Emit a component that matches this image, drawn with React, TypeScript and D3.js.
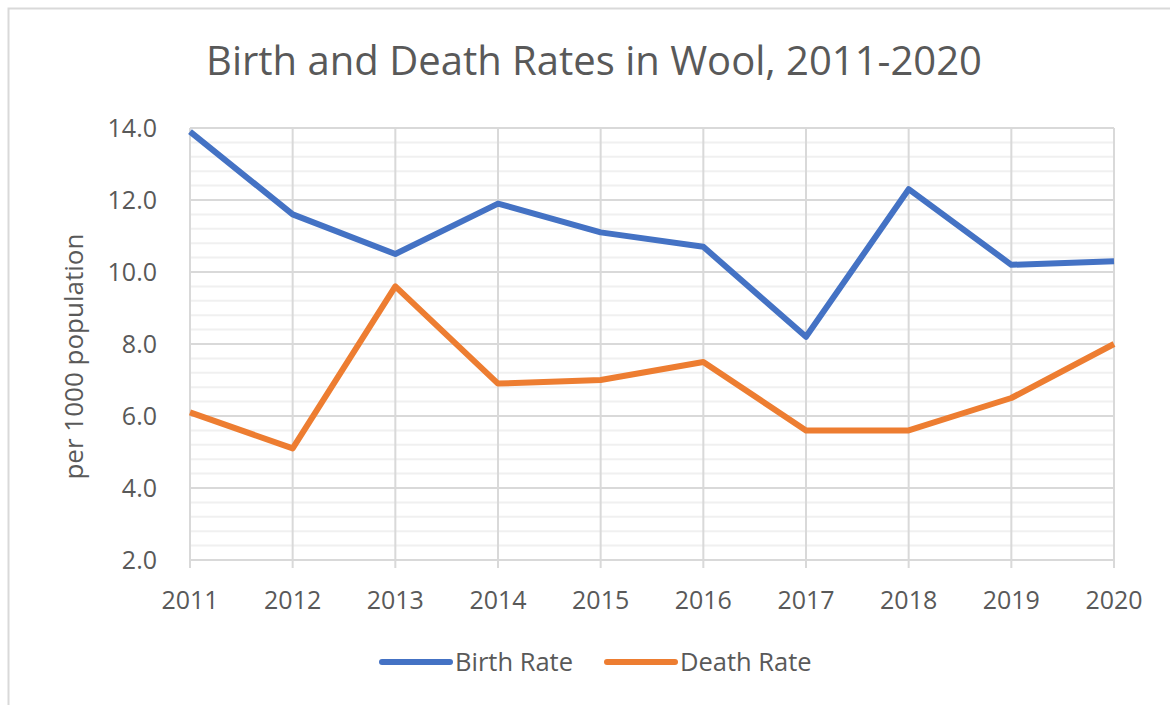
import { useEffect, useRef } from 'react';
import * as d3 from 'd3';

const years = ['2011', '2012', '2013', '2014', '2015', '2016', '2017', '2018', '2019', '2020'];
const birthRate = [13.9, 11.6, 10.5, 11.9, 11.1, 10.7, 8.2, 12.3, 10.2, 10.3];
const deathRate = [6.1, 5.1, 9.6, 6.9, 7.0, 7.5, 5.6, 5.6, 6.5, 8.0];
const yTicks = [2, 4, 6, 8, 10, 12, 14];

const WIDTH = 1170;
const HEIGHT = 705;
const FONT = '"Open Sans", "Noto Sans", sans-serif';
const TEXT_COLOR = '#595959';

const App = () => {
  const svgRef = useRef<SVGSVGElement>(null);

  useEffect(() => {
    if (!svgRef.current) return;
    const svg = d3.select(svgRef.current);
    svg.selectAll('*').remove();

    const margin = { left: 190, right: 56, top: 128, bottom: 145 };
    const x = d3.scalePoint<string>()
      .domain(years)
      .range([margin.left, WIDTH - margin.right]);
    const y = d3.scaleLinear()
      .domain([2, 14])
      .range([HEIGHT - margin.bottom, margin.top]);

    // chart frame
    svg.append('rect')
      .attr('x', 8.5).attr('y', 8.5)
      .attr('width', 1400).attr('height', 1000)
      .attr('fill', 'white')
      .attr('stroke', '#d9d9d9')
      .attr('stroke-width', 2);

    // minor gridlines
    const minor = d3.range(2, 14.001, 0.4);
    svg.append('g')
      .selectAll('line')
      .data(minor)
      .enter()
      .append('line')
      .attr('x1', x(years[0])!)
      .attr('x2', x(years[years.length - 1])!)
      .attr('y1', d => y(d))
      .attr('y2', d => y(d))
      .attr('stroke', '#f0f0f0')
      .attr('stroke-width', 2);

    // major gridlines
    svg.append('g')
      .selectAll('line')
      .data(yTicks)
      .enter()
      .append('line')
      .attr('x1', x(years[0])!)
      .attr('x2', x(years[years.length - 1])!)
      .attr('y1', d => y(d))
      .attr('y2', d => y(d))
      .attr('stroke', '#d9d9d9')
      .attr('stroke-width', 2);

    // vertical gridlines with ticks below axis
    svg.append('g')
      .selectAll('line')
      .data(years)
      .enter()
      .append('line')
      .attr('x1', d => x(d)!)
      .attr('x2', d => x(d)!)
      .attr('y1', y(14))
      .attr('y2', y(2) + 8)
      .attr('stroke', '#d9d9d9')
      .attr('stroke-width', 2);

    // y tick labels
    svg.append('g')
      .selectAll('text')
      .data(yTicks)
      .enter()
      .append('text')
      .attr('x', 157)
      .attr('y', d => y(d))
      .attr('dy', '0.35em')
      .attr('text-anchor', 'end')
      .style('font-family', FONT)
      .style('font-size', '25px')
      .style('fill', TEXT_COLOR)
      .text(d => d.toFixed(1));

    // x tick labels
    svg.append('g')
      .selectAll('text')
      .data(years)
      .enter()
      .append('text')
      .attr('x', d => x(d)!)
      .attr('y', 609)
      .attr('text-anchor', 'middle')
      .style('font-family', FONT)
      .style('font-size', '25px')
      .style('fill', TEXT_COLOR)
      .text(d => d);

    // lines
    const line = d3.line<number>()
      .x((_, i) => x(years[i])!)
      .y(d => y(d));

    const series = [
      { name: 'Birth Rate', values: birthRate, color: '#4472C4' },
      { name: 'Death Rate', values: deathRate, color: '#ED7D31' },
    ];

    series.forEach(s => {
      svg.append('path')
        .attr('d', line(s.values) as string)
        .attr('fill', 'none')
        .attr('stroke', s.color)
        .attr('stroke-width', 6)
        .attr('stroke-linejoin', 'round');
    });

    // title
    svg.append('text')
      .attr('x', 594)
      .attr('y', 75)
      .attr('text-anchor', 'middle')
      .style('font-family', FONT)
      .style('font-size', '40px')
      .style('fill', TEXT_COLOR)
      .text('Birth and Death Rates in Wool, 2011-2020');

    // y axis title
    svg.append('text')
      .attr('transform', `translate(74, ${y(7.65)}) rotate(-90)`)
      .attr('dy', '0.35em')
      .attr('text-anchor', 'middle')
      .style('font-family', FONT)
      .style('font-size', '26px')
      .style('fill', TEXT_COLOR)
      .text('per 1000 population');

    // legend
    const legendX = [382, 607];
    const legend = svg.append('g')
      .selectAll('g')
      .data(series)
      .enter()
      .append('g')
      .attr('transform', (_, i) => `translate(${legendX[i]}, 662)`);

    legend.append('line')
      .attr('x1', 0).attr('x2', 68)
      .attr('y1', 0).attr('y2', 0)
      .attr('stroke', d => d.color)
      .attr('stroke-width', 6)
      .attr('stroke-linecap', 'round');

    legend.append('text')
      .attr('x', 73)
      .attr('y', 0)
      .attr('dy', '0.35em')
      .style('font-family', FONT)
      .style('font-size', '25.5px')
      .style('fill', TEXT_COLOR)
      .text(d => d.name);
  }, []);

  return (
    <div style={{ position: 'absolute', left: 0, top: 0 }}>
      <svg ref={svgRef} width={WIDTH} height={HEIGHT} style={{ display: 'block' }}></svg>
    </div>
  );
};

export default App;
